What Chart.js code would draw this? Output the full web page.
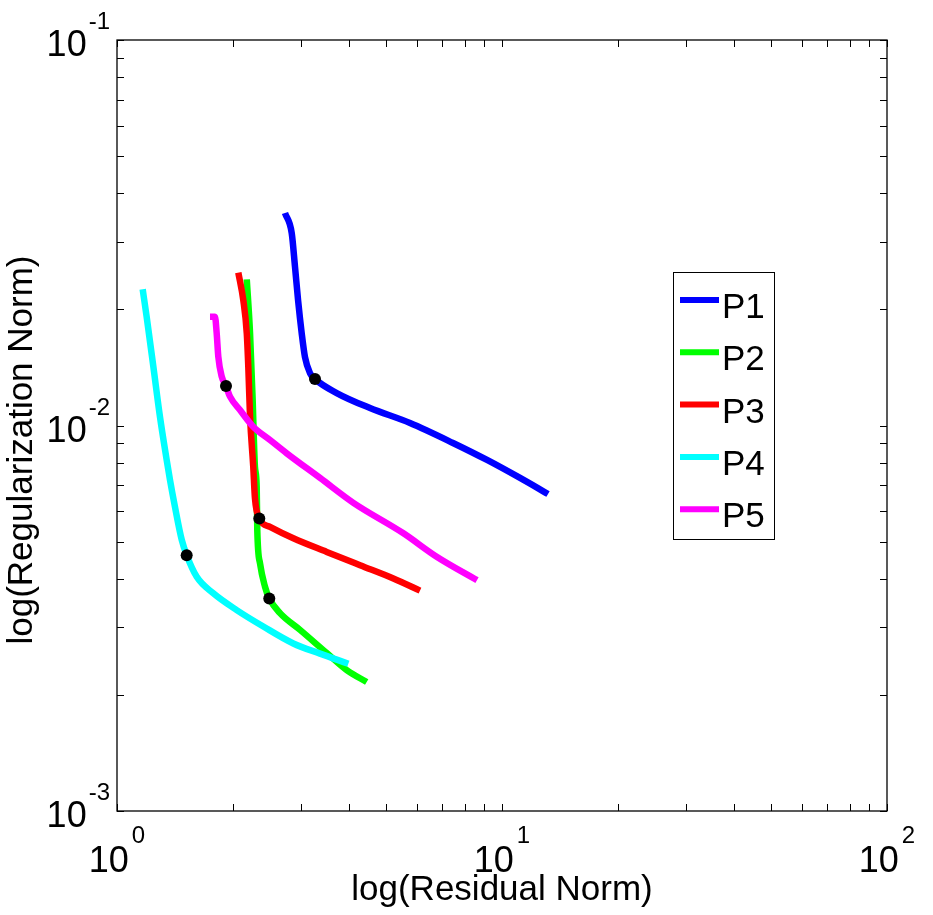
<!DOCTYPE html>
<html>
<head>
<meta charset="utf-8">
<script src="https://cdn.jsdelivr.net/npm/chart.js@4.4.1/dist/chart.umd.min.js"></script>
<style>
html,body{margin:0;padding:0;background:#fff;}
canvas{display:block;}
</style>
</head>
<body>
<canvas id="c" width="933" height="915"></canvas>
<script>
// ---- data ----
const seriesNames = ['P1','P2','P3','P4','P5'];
const seriesColors = ['#0000ff','#00ff00','#ff0000','#00ffff','#ff00ff'];

const p1x = [2.731, 2.843, 2.900, 2.953, 3.018, 3.078, 3.171, 3.268, 3.721, 4.541, 5.768, 7.459, 9.143, 11.14, 13.17];
const p1y = [0.03557, 0.03157, 0.02577, 0.02116, 0.01737, 0.01505, 0.01368, 0.01320, 0.01214, 0.01110, 0.01015, 0.00901, 0.00814, 0.00731, 0.00664];

const p2x = [2.173, 2.216, 2.251, 2.282, 2.306, 2.314, 2.352, 2.423, 2.486, 2.651, 2.988, 3.505, 3.951, 4.452];
const p2y = [0.02394, 0.01734, 0.01164, 0.00781, 0.00694, 0.00536, 0.00439, 0.00382, 0.00356, 0.00326, 0.00295, 0.00257, 0.00232, 0.00216];

const p3x = [2.066, 2.128, 2.173, 2.193, 2.216, 2.259, 2.282, 2.342, 2.497, 2.871, 3.505, 4.278, 5.222, 6.124];
const p3y = [0.02491, 0.02116, 0.01734, 0.01420, 0.01054, 0.00781, 0.00648, 0.00574, 0.00546, 0.00510, 0.00470, 0.00434, 0.00401, 0.00373];

const p4x = [1.166, 1.194, 1.243, 1.293, 1.346, 1.373, 1.414, 1.473, 1.517, 1.611, 1.779, 2.046, 2.399, 2.871, 3.368, 3.989];
const p4y = [0.02256, 0.01915, 0.01420, 0.01054, 0.00814, 0.00722, 0.00616, 0.00505, 0.00461, 0.00405, 0.00367, 0.00332, 0.00301, 0.00272, 0.00256, 0.00241];

const p5x = [1.744, 1.797, 1.815, 1.833, 1.871, 1.919, 1.966, 2.087, 2.259, 2.497, 2.760, 3.368, 4.111, 5.533, 6.781, 8.612];
const p5y = [0.01915, 0.01915, 0.01737, 0.01508, 0.01339, 0.01266, 0.01188, 0.01097, 0.00993, 0.00917, 0.00847, 0.00731, 0.00630, 0.00526, 0.00456, 0.00397];

const knotX = [3.268, 2.486, 2.342, 1.517, 1.919];
const knotY = [0.0132, 0.00356, 0.00574, 0.00461, 0.01266];

const xTickValues = [1, 10, 100];
const xTickExps = ['0', '1', '2'];
const yTickValues = [0.001, 0.01, 0.1];
const yTickExps = ['-3', '-2', '-1'];

const xTitle = 'log(Residual Norm)';
const yTitle = 'log(Regularization Norm)';

// ---- build ----
const allX = [p1x, p2x, p3x, p4x, p5x];
const allY = [p1y, p2y, p3y, p4y, p5y];
const toPts = (xs, ys) => xs.map((x, i) => ({x: x, y: ys[i]}));

const datasets = seriesNames.map((name, i) => ({
  label: name,
  data: toPts(allX[i], allY[i]),
  showLine: true,
  borderColor: seriesColors[i],
  backgroundColor: seriesColors[i],
  borderWidth: 6.5,
  pointRadius: 0,
  cubicInterpolationMode: 'monotone',
  borderJoinStyle: 'round',
  borderCapStyle: 'butt',
  order: 10 - i
}));
datasets.push({
  label: 'knots',
  data: toPts(knotX, knotY),
  showLine: false,
  pointRadius: 6,
  pointBackgroundColor: '#000',
  pointBorderColor: '#000',
  pointBorderWidth: 0,
  order: 0
});

const FONT = '"Liberation Sans", Arial, Helvetica, sans-serif';

const decorPlugin = {
  id: 'decor',
  afterDraw(chart) {
    const ctx = chart.ctx;
    const xs = chart.scales.x, ys = chart.scales.y;
    const a = chart.chartArea;
    ctx.save();
    // box
    ctx.strokeStyle = '#000';
    ctx.lineWidth = 1.3;
    ctx.strokeRect(a.left, a.top, a.right - a.left, a.bottom - a.top);
    // ticks
    const tl = 7;
    ctx.lineWidth = 1;
    ctx.beginPath();
    for (let d = 1; d <= 100; d *= 10) {
      for (let k = 1; k <= 9; k++) {
        const v = d * k;
        if (v > 100) break;
        const px = Math.round(xs.getPixelForValue(v)) + 0.5;
        ctx.moveTo(px, a.bottom); ctx.lineTo(px, a.bottom - tl);
        ctx.moveTo(px, a.top); ctx.lineTo(px, a.top + tl);
      }
    }
    for (let d = 0.001; d <= 0.1 + 1e-12; d *= 10) {
      for (let k = 1; k <= 9; k++) {
        const v = d * k;
        if (v > 0.1 + 1e-12) break;
        const py = Math.round(ys.getPixelForValue(v)) + 0.5;
        ctx.moveTo(a.left, py); ctx.lineTo(a.left + tl, py);
        ctx.moveTo(a.right, py); ctx.lineTo(a.right - tl, py);
      }
    }
    ctx.stroke();

    // tick labels
    ctx.fillStyle = '#000';
    ctx.textBaseline = 'alphabetic';
    const bigF = '36px ' + FONT, smallF = '24px ' + FONT;
    xTickValues.forEach((v, i) => {
      const px = xs.getPixelForValue(v);
      ctx.font = bigF;
      const w1 = ctx.measureText('10').width;
      ctx.font = smallF;
      const w2 = ctx.measureText(xTickExps[i]).width;
      const total = w1 + 3 + w2;
      const start = px - total / 2;
      ctx.font = bigF; ctx.textAlign = 'left';
      ctx.fillText('10', start, a.bottom + 61);
      ctx.font = smallF;
      ctx.fillText(xTickExps[i], start + w1 + 3, a.bottom + 32);
    });
    yTickValues.forEach((v, i) => {
      const py = ys.getPixelForValue(v);
      const right = a.left - 7;
      ctx.font = smallF; ctx.textAlign = 'right';
      const w2 = ctx.measureText(yTickExps[i]).width;
      ctx.fillText(yTickExps[i], right, py - 11);
      ctx.font = bigF;
      ctx.fillText('10', right - w2 - 2, py + 16);
    });

    // axis titles
    ctx.font = '35px ' + FONT;
    ctx.textAlign = 'center';
    ctx.fillText(xTitle, (a.left + a.right) / 2, a.bottom + 89);
    ctx.save();
    ctx.translate(32, 450);
    ctx.rotate(-Math.PI / 2);
    ctx.fillText(yTitle, 0, 0);
    ctx.restore();

    // legend
    const lx = 673, ly = 272, lw = 101, lh = 267;
    ctx.fillStyle = '#fff';
    ctx.fillRect(lx, ly, lw, lh);
    ctx.strokeStyle = '#000';
    ctx.lineWidth = 1;
    ctx.strokeRect(lx + 0.5, ly + 0.5, lw, lh);
    const names = chart.data.datasets.slice(0, seriesNames.length);
    names.forEach((ds, i) => {
      const yy = 300 + i * 52.3;
      ctx.strokeStyle = ds.borderColor;
      ctx.lineWidth = 6;
      ctx.beginPath();
      ctx.moveTo(680, yy); ctx.lineTo(719, yy);
      ctx.stroke();
      ctx.fillStyle = '#000';
      ctx.font = '35px ' + FONT;
      ctx.textAlign = 'left';
      ctx.fillText(ds.label, 722, yy + 18);
    });
    ctx.restore();
  }
};

new Chart(document.getElementById('c'), {
  type: 'scatter',
  data: { datasets: datasets },
  options: {
    responsive: false,
    devicePixelRatio: 1,
    animation: false,
    layout: { padding: { left: 117, right: 46, top: 40, bottom: 104 } },
    plugins: { legend: { display: false }, tooltip: { enabled: false } },
    scales: {
      x: {
        type: 'logarithmic', min: 1, max: 100,
        grid: { display: false, drawTicks: false },
        border: { display: false },
        ticks: { display: false }
      },
      y: {
        type: 'logarithmic', min: 0.001, max: 0.1,
        grid: { display: false, drawTicks: false },
        border: { display: false },
        ticks: { display: false }
      }
    }
  },
  plugins: [decorPlugin]
});
</script>
</body>
</html>
